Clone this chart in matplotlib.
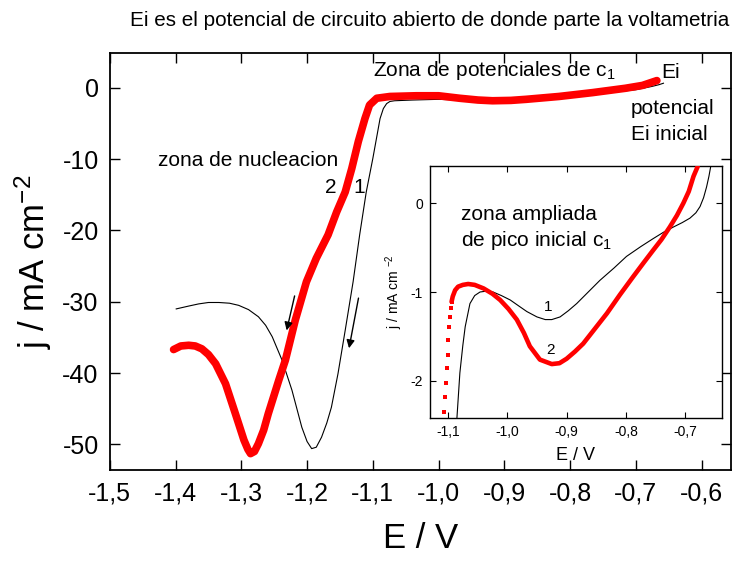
import matplotlib
matplotlib.use("Agg")
import matplotlib.pyplot as plt

plt.rcParams['font.family'] = ['Liberation Sans', 'DejaVu Sans']
plt.rcParams['mathtext.fontset'] = 'custom'
plt.rcParams['mathtext.rm'] = 'Liberation Sans'
plt.rcParams['mathtext.it'] = 'Liberation Sans:italic'

# ---- main curve 1 (black, thin) ----
E1 = [-1.399, -1.380, -1.365, -1.350, -1.334, -1.318, -1.304, -1.289, -1.274, -1.263,
      -1.253, -1.238, -1.223, -1.208, -1.200, -1.193, -1.186, -1.178, -1.170, -1.163,
      -1.153, -1.142, -1.130, -1.120, -1.110, -1.100, -1.089, -1.084, -1.079, -1.074,
      -1.067, -1.040, -1.000, -0.950, -0.900, -0.850, -0.800, -0.750, -0.700, -0.676,
      -0.665, -0.658]
j1 = [-31.0, -30.6, -30.3, -30.1, -30.1, -30.2, -30.5, -31.1, -32.1, -33.3,
      -34.9, -38.2, -42.4, -47.6, -49.6, -50.6, -50.4, -49.0, -47.0, -44.8,
      -40.1, -34.0, -27.2, -20.6, -14.6, -9.9, -4.3, -2.9, -2.2, -1.9,
      -1.8, -1.7, -1.6, -1.75, -1.75, -1.5, -1.15, -0.75, -0.25, 0.2,
      0.45, 0.66]

# ---- main curve 2 (red, thick) ----
E2 = [-1.403, -1.392, -1.380, -1.370, -1.360, -1.350, -1.339, -1.324, -1.309, -1.296,
      -1.290, -1.286, -1.280, -1.274, -1.266, -1.259, -1.243, -1.233, -1.218, -1.201,
      -1.186, -1.168, -1.155, -1.142, -1.132, -1.122, -1.112, -1.105, -1.094, -1.074,
      -1.034, -1.000, -0.968, -0.940, -0.918, -0.890, -0.867, -0.817, -0.766, -0.716,
      -0.690, -0.680, -0.668]
j2 = [-36.7, -36.2, -36.1, -36.2, -36.6, -37.4, -38.7, -41.5, -45.7, -49.4,
      -50.7, -51.3, -51.0, -49.9, -48.0, -45.7, -41.0, -38.2, -32.6, -27.2,
      -23.9, -20.6, -17.4, -14.6, -11.3, -7.5, -4.3, -2.4, -1.45, -1.2,
      -1.1, -1.1, -1.45, -1.7, -1.8, -1.75, -1.6, -1.2, -0.66, -0.05,
      0.35, 0.66, 1.03]

# ---- inset curve 1 (black) ----
Ei1 = [-1.085, -1.080, -1.075, -1.071, -1.063, -1.055, -1.046, -1.035, -1.024, -1.010,
       -0.995, -0.980, -0.967, -0.950, -0.936, -0.925, -0.911, -0.897, -0.883, -0.865,
       -0.844, -0.820, -0.799, -0.775, -0.754, -0.737, -0.720, -0.705, -0.692, -0.682,
       -0.675, -0.669, -0.664, -0.660, -0.657]
ji1 = [-2.42, -1.91, -1.60, -1.39, -1.13, -1.04, -1.00, -0.99, -1.00, -1.04,
       -1.09, -1.16, -1.22, -1.28, -1.31, -1.31, -1.28, -1.21, -1.13, -1.01,
       -0.87, -0.73, -0.60, -0.49, -0.40, -0.33, -0.27, -0.22, -0.17, -0.11,
       -0.04, 0.06, 0.18, 0.30, 0.41]

# ---- inset curve 2 (red): sparse points then dense line ----
Ei2_pts = [-1.1062, -1.1051, -1.1034, -1.1022, -1.1006, -1.0994, -1.0978, -1.0966, -1.0955, -1.0938]
ji2_pts = [-2.352, -2.176, -2.019, -1.858, -1.708, -1.539, -1.390, -1.278, -1.184, -1.109]
Ei2 = [-1.094, -1.092, -1.088, -1.083, -1.075, -1.066, -1.055, -1.040, -1.025, -1.012,
       -0.998, -0.984, -0.972, -0.962, -0.945, -0.925, -0.912, -0.900, -0.886, -0.872,
       -0.852, -0.832, -0.810, -0.788, -0.770, -0.754, -0.740, -0.726, -0.714, -0.703,
       -0.694, -0.686, -0.679]
ji2 = [-1.11, -1.05, -0.98, -0.94, -0.92, -0.91, -0.92, -0.96, -1.02, -1.09,
       -1.19, -1.31, -1.46, -1.61, -1.76, -1.81, -1.80, -1.75, -1.67, -1.58,
       -1.41, -1.24, -1.03, -0.83, -0.67, -0.53, -0.41, -0.27, -0.14, 0.0,
       0.13, 0.30, 0.41]

main_xticks = [-1.5, -1.4, -1.3, -1.2, -1.1, -1.0, -0.9, -0.8, -0.7, -0.6]
main_xlabels = ["-1,5", "-1,4", "-1,3", "-1,2", "-1,1", "-1,0", "-0,9", "-0,8", "-0,7", "-0,6"]
main_yticks = [0, -10, -20, -30, -40, -50]
inset_xticks = [-1.1, -1.0, -0.9, -0.8, -0.7]
inset_xlabels = ["-1,1", "-1,0", "-0,9", "-0,8", "-0,7"]
inset_yticks = [0, -1, -2]

fig = plt.figure(figsize=(7.32, 5.76), dpi=100)
ax = fig.add_axes([0.150, 0.184, 0.848, 0.724])

ax.plot(E1, j1, color='black', lw=0.8, zorder=2)
ax.plot(E2, j2, color='#ff0000', lw=5.5, solid_capstyle='round', solid_joinstyle='round', zorder=3)

ax.set_xlim(-1.5, -0.556)
ax.set_ylim(-53.6, 4.9)
ax.set_xticks(main_xticks)
ax.set_xticklabels(main_xlabels)
ax.set_yticks(main_yticks)
ax.set_yticklabels([str(v) for v in main_yticks])
ax.tick_params(direction='in', length=7, width=1.0, labelsize=18,
               top=True, right=True, pad=8)
for s in ax.spines.values():
    s.set_linewidth(1.3)
ax.set_xlabel("E / V", fontsize=25, labelpad=12)
ax.set_ylabel("j / mA cm$^{-2}$", fontsize=25, labelpad=6)

# arrows
ax.annotate("", xy=(-1.232, -34.4), xytext=(-1.218, -28.8),
            arrowprops=dict(arrowstyle='-|>', color='black', lw=1.0, mutation_scale=12))
ax.annotate("", xy=(-1.137, -36.9), xytext=(-1.121, -29.1),
            arrowprops=dict(arrowstyle='-|>', color='black', lw=1.0, mutation_scale=12))

fs = 15
ax.text(-1.426, -10.2, "zona de nucleacion", fontsize=fs, va='center', ha='left')
ax.text(-1.164, -13.9, "2", fontsize=fs, va='center', ha='center')
ax.text(-1.120, -13.9, "1", fontsize=fs, va='center', ha='center')
ax.text(-1.100, 2.5, "Zona de potenciales de c$_\\mathregular{1}$", fontsize=fs, va='center', ha='left')
ax.text(-0.662, 2.2, "Ei", fontsize=fs, va='center', ha='left')
ax.text(-0.7076, -2.9, "potencial", fontsize=fs, va='center', ha='left')
ax.text(-0.7076, -6.5, "Ei inicial", fontsize=fs, va='center', ha='left')

fig.text(0.996, 0.965, "Ei es el potencial de circuito abierto de donde parte la voltametria",
         fontsize=14.9, ha='right', va='center')

# inset
axi = fig.add_axes([0.5874, 0.2743, 0.3989, 0.4375])
axi.plot(Ei1, ji1, color='black', lw=0.8, zorder=2)
axi.plot(Ei2, ji2, color='#ff0000', lw=3.3, solid_capstyle='round', zorder=3)
axi.plot(Ei2_pts, ji2_pts, linestyle='none', marker='s', markersize=2.6,
         color='#ff0000', markeredgewidth=0, zorder=3)
axi.set_xlim(-1.1304, -0.638)
axi.set_ylim(-2.416, 0.416)
axi.set_xticks(inset_xticks)
axi.set_xticklabels(inset_xlabels)
axi.set_yticks(inset_yticks)
axi.set_yticklabels([str(v) for v in inset_yticks])
axi.tick_params(direction='in', length=4, width=0.8, labelsize=10,
                top=True, right=True, pad=5)
for s in axi.spines.values():
    s.set_linewidth(1.0)
axi.set_xlabel("E / V", fontsize=13, labelpad=6)
axi.set_ylabel("j / mA cm $^{-2}$", fontsize=10, labelpad=4)

axi.text(-1.078, -0.13, "zona ampliada", fontsize=fs, va='center', ha='left')
axi.text(-1.078, -0.42, "de pico inicial c$_\\mathregular{1}$", fontsize=fs, va='center', ha='left')
axi.text(-0.931, -1.17, "1", fontsize=11, va='center', ha='center')
axi.text(-0.928, -1.65, "2", fontsize=11, va='center', ha='center')

fig.savefig("out.png", dpi=100)
